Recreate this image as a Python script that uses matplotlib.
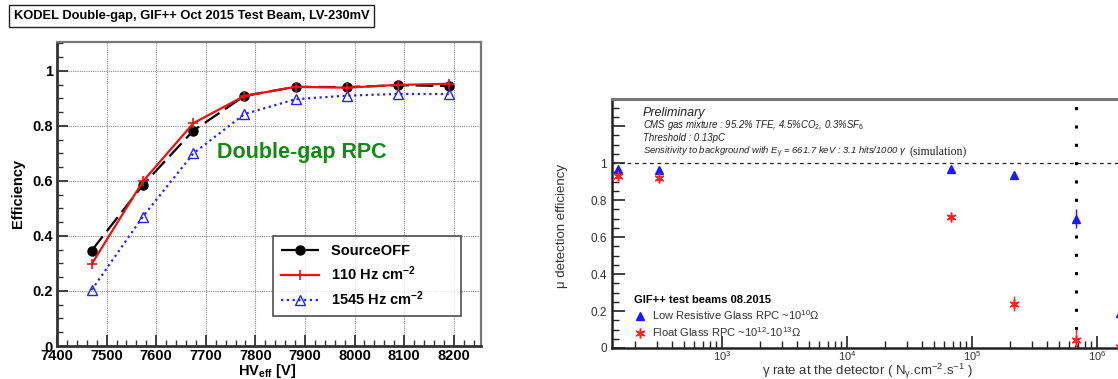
import matplotlib
matplotlib.use("Agg")
import matplotlib.pyplot as plt
import numpy as np
from matplotlib.ticker import MultipleLocator, FixedLocator, NullFormatter, LogLocator
from matplotlib.lines import Line2D

plt.rcParams['font.family'] = ['Liberation Sans', 'DejaVu Sans']
plt.rcParams['mathtext.fontset'] = 'custom'
plt.rcParams['mathtext.rm'] = 'Liberation Sans'
plt.rcParams['mathtext.it'] = 'Liberation Sans:italic'
plt.rcParams['mathtext.bf'] = 'Liberation Sans:bold'

# ---------------- Left panel data ----------------
hv = [7470, 7573, 7675, 7778, 7881, 7984, 8087, 8190]
eff_off = [0.347, 0.585, 0.783, 0.909, 0.942, 0.941, 0.948, 0.945]
eff_110 = [0.298, 0.598, 0.810, 0.909, 0.942, 0.939, 0.949, 0.953]
eff_1545 = [0.204, 0.470, 0.700, 0.843, 0.897, 0.910, 0.916, 0.916]
left_xticks = [7400, 7500, 7600, 7700, 7800, 7900, 8000, 8100, 8200]
left_yticks = [0, 0.2, 0.4, 0.6, 0.8, 1.0]
left_ytick_labels = ["0", "0.2", "0.4", "0.6", "0.8", "1"]

# ---------------- Right panel data ----------------
rate_low = [147, 316, 6.8e4, 2.16e5, 6.8e5, 1.53e6]
eff_low = [0.969, 0.962, 0.968, 0.937, 0.700, 0.187]
err_low = [0.005, 0.005, 0.005, 0.006, 0.05, 0.02]
rate_float = [147, 316, 6.8e4, 2.16e5, 6.8e5, 1.53e6]
eff_float = [0.930, 0.917, 0.706, 0.240, 0.043, 0.005]
err_float = [0.01, 0.012, 0.008, 0.04, 0.06, 0.005]
vline_rate = 6.8e5
right_yticks = [0, 0.2, 0.4, 0.6, 0.8, 1.0, 1.2]
right_ytick_labels = ["0", "0.2", "0.4", "0.6", "0.8", "1", ""]

W, H = 1118, 379
fig = plt.figure(figsize=(W / 100, H / 100), dpi=100)

def fx(px):
    return px / W

def fy(py):
    return 1 - py / H

# ================= LEFT PANEL =================
axL = fig.add_axes([fx(57), fy(346), fx(481) - fx(57), fy(42) - fy(346)])
axL.set_xlim(7400, 8255)
axL.set_ylim(0, 1.105)
axL.xaxis.set_major_locator(FixedLocator(left_xticks))
axL.xaxis.set_minor_locator(MultipleLocator(20))
axL.yaxis.set_major_locator(FixedLocator(left_yticks))
axL.yaxis.set_minor_locator(MultipleLocator(0.05))
axL.set_yticklabels(left_ytick_labels)
axL.tick_params(axis='both', which='major', direction='in', length=8, width=1.3,
                labelsize=10.5, color='#333333')
axL.tick_params(axis='both', which='minor', direction='in', length=4, width=1.0, color='#333333')
for lab in axL.get_xticklabels() + axL.get_yticklabels():
    lab.set_fontweight('bold')
axL.tick_params(axis='x', pad=2)
axL.tick_params(axis='y', pad=3)
axL.grid(True, which='major', linestyle=(0, (1, 1)), color='#888888', linewidth=0.8)
axL.set_axisbelow(True)
for s in ['left', 'bottom']:
    axL.spines[s].set_linewidth(2.0)
    axL.spines[s].set_color('#333333')
for s in ['top', 'right']:
    axL.spines[s].set_linewidth(1.6)
    axL.spines[s].set_color('#777777')

axL.plot(hv, eff_off, color='black', linestyle=(0, (8, 3)), linewidth=1.6,
         marker='o', markersize=6.5, label='SourceOFF', zorder=3)
axL.plot(hv, eff_110, color='#ee1111', linestyle='-', linewidth=1.6,
         marker='+', markersize=7, markeredgewidth=1.2, label=r'110 Hz cm$^{\mathbf{-2}}$', zorder=4)
axL.plot(hv, eff_1545, color='#2222ff', linestyle=(0, (1, 1.6)), linewidth=1.6,
         marker='^', markersize=7, markerfacecolor='none', markeredgewidth=1.0,
         label=r'1545 Hz cm$^{\mathbf{-2}}$', zorder=3)

axL.set_ylabel('Efficiency', fontsize=10.5, fontweight='bold')
axL.yaxis.set_label_coords((18 - 57) / 424, 0.5)
axL.yaxis.label.set_verticalalignment('center')
axL.set_xlabel(r'HV$_{\mathbf{eff}}$ [V]', fontsize=10.5, fontweight='bold')
axL.xaxis.set_label_coords(0.495, (346 - 371) / 304)
axL.xaxis.label.set_verticalalignment('center')

axL.text(7723, 0.684, 'Double-gap RPC', fontsize=15.5, fontweight='bold',
         color='#138a13', ha='left', va='baseline')

leg = axL.legend(loc='upper left', bbox_to_anchor=((273 - 57) / 424, (346 - 236) / 304),
                 borderaxespad=0, frameon=True, fancybox=False, edgecolor='#222222',
                 prop={'weight': 'bold', 'size': 10.5}, handlelength=2.6,
                 labelspacing=0.45, borderpad=0.55, handletextpad=0.8)
leg.get_frame().set_linewidth(1.2)
for t in leg.get_texts():
    t.set_text(t.get_text() + '        ')

fig.text(fx(14), fy(16), 'KODEL Double-gap, GIF++ Oct 2015 Test Beam, LV-230mV',
         fontsize=9.3, fontweight='bold', ha='left', va='center',
         bbox=dict(boxstyle='square,pad=0.35', facecolor='white', edgecolor='#222222', linewidth=1.0))

# ================= RIGHT PANEL =================
axR = fig.add_axes([fx(612), fy(348), fx(1125) - fx(612), fy(99) - fy(348)])
axR.set_xscale('log')
axR.set_xlim(131.8, 1.675e6)
axR.set_ylim(0, 1.346)
axR.yaxis.set_major_locator(FixedLocator(right_yticks))
axR.yaxis.set_minor_locator(MultipleLocator(0.05))
axR.set_yticklabels(right_ytick_labels)
axR.xaxis.set_major_locator(LogLocator(base=10, numticks=10))
axR.xaxis.set_minor_locator(LogLocator(base=10, subs=np.arange(2, 10), numticks=20))
axR.xaxis.set_minor_formatter(NullFormatter())
axR.tick_params(axis='both', which='major', direction='in', length=9, width=1.2,
                labelsize=8.5, color='#222222', labelcolor='#333333')
axR.tick_params(axis='both', which='minor', direction='in', length=5, width=1.0, color='#222222')
axR.tick_params(axis='x', which='major', labelsize=8, pad=1)
for s in ['left', 'bottom']:
    axR.spines[s].set_linewidth(1.8)
    axR.spines[s].set_color('#222222')
axR.spines['top'].set_linewidth(2.2)
axR.spines['top'].set_color('#777777')
axR.spines['right'].set_visible(False)

axR.axhline(1.0, color='#222222', linestyle=(0, (3, 3)), linewidth=0.9, zorder=1)
axR.axvline(vline_rate, color='black', linestyle=(0, (1, 5)), linewidth=2.2, zorder=1)

axR.errorbar(rate_low, eff_low, yerr=err_low, fmt='^', color='#1a1aff', markersize=5.5,
             elinewidth=1.0, capsize=0, zorder=3)
axR.errorbar(rate_float, eff_float, yerr=err_float, fmt='none', ecolor='#ff3333',
             elinewidth=1.0, capsize=0, zorder=3)
axR.plot(rate_float, eff_float, linestyle='none', marker=(6, 2, 0), markersize=7,
         color='#ff2222', markeredgewidth=1.1, zorder=4)
axR.plot(rate_float, eff_float, linestyle='none', marker='o', markersize=2.5,
         color='#ff2222', zorder=4)

h_low = Line2D([], [], linestyle='none', marker='^', color='#1a1aff', markersize=5.5)
h_float = Line2D([], [], linestyle='none', marker=(6, 2, 0), color='#ff2222',
                 markersize=7, markeredgewidth=1.1)
legR = axR.legend([h_low, h_float],
                  [r'Low Resistive Glass RPC ~10$^{10}\Omega$',
                   r'Float Glass RPC ~10$^{12}$-10$^{13}\Omega$'],
                  title='GIF++ test beams 08.2015', alignment='left',
                  loc='lower left', bbox_to_anchor=((632 - 612) / 513, (348 - 341) / 249),
                  borderaxespad=0, frameon=False, prop={'size': 8}, handlelength=1.0,
                  handletextpad=0.6, labelspacing=0.3, borderpad=0.2)
legR.get_title().set_fontweight('bold')
legR.get_title().set_fontsize(8)
for t in legR.get_texts():
    t.set_color('#333333')

axR.set_ylabel('μ detection efficiency', fontsize=9.5, color='#333333')
axR.yaxis.set_label_coords((562 - 612) / 513, 0.49)
axR.yaxis.label.set_verticalalignment('center')
axR.set_xlabel(r'γ rate at the detector ( N$_{\mathregular{γ}}$.cm$^{-2}$.s$^{-1}$ )',
               fontsize=9.5, color='#333333')
axR.xaxis.set_label_coords((868 - 612) / 513, (348 - 371) / 249)
axR.xaxis.label.set_verticalalignment('center')

tr = axR.transAxes
def ax_px(px, py):
    return ((px - 612) / 513, (348 - py) / 249)

axR.text(*ax_px(643, 113), 'Preliminary', fontsize=9, style='italic', color='#222222',
         ha='left', va='center', transform=tr)
axR.text(*ax_px(643, 125), r'CMS gas mixture : 95.2% TFE, 4.5%CO$_{\mathit{2}}$, 0.3%SF$_{\mathit{6}}$',
         fontsize=6.9, style='italic', color='#222222', ha='left', va='center', transform=tr)
axR.text(*ax_px(643, 138), 'Threshold : 0.13pC', fontsize=6.9, style='italic',
         color='#222222', ha='left', va='center', transform=tr)
axR.text(*ax_px(643, 152),
         r'Sensitivity to background with E$_{\gamma}$ = 661.7 keV : 3.1 hits/1000 $\gamma$',
         fontsize=6.8, style='italic', color='#222222', ha='left', va='center', transform=tr)
axR.text(*ax_px(910, 151.5), '(simulation)', fontsize=8.5, family='Liberation Serif',
         color='#222222', ha='left', va='center', transform=tr)

fig.savefig('out.png', dpi=100)
